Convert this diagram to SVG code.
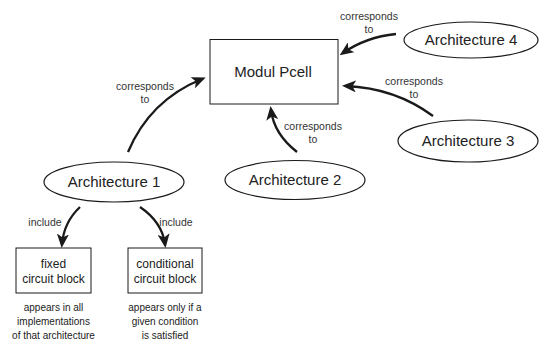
<svg xmlns="http://www.w3.org/2000/svg" width="540" height="345" viewBox="0 0 540 345">
<defs>
<marker id="ah" markerUnits="userSpaceOnUse" markerWidth="14" markerHeight="12" refX="10" refY="6" orient="auto">
<path d="M0,0 L14,6 L0,12 L3.5,6 Z" fill="#1a1a1a"/>
</marker>
</defs>
<style>
.node{fill:#fff;stroke:#1a1a1a;stroke-width:1.2}
.box{fill:#fff;stroke:#1a1a1a;stroke-width:1}
.big{font-family:"Liberation Sans",Arial,sans-serif;font-size:15px;fill:#222;text-anchor:middle}
.mid{font-family:"Liberation Sans",Arial,sans-serif;font-size:12px;fill:#222;text-anchor:middle}
.sm{font-family:"Liberation Sans",Arial,sans-serif;font-size:10.5px;fill:#333;text-anchor:middle}
.note{font-family:"Liberation Sans",Arial,sans-serif;font-size:10px;fill:#222;text-anchor:middle}
.arr{fill:none;stroke:#1a1a1a;stroke-width:2.3;marker-end:url(#ah)}
</style>
<rect width="540" height="345" fill="#fff"/>
<g id="connectors">
<path class="arr" d="M128,152 Q150,100 202,79"/>
<path class="arr" d="M297,152 Q274,134 271,110"/>
<path class="arr" d="M433,116 Q395,88 346,86"/>
<path class="arr" d="M396,34 Q366,37 343,53"/>
<path class="arr" d="M80,207 Q64,222 62,244"/>
<path class="arr" d="M140,207 Q162,222 165,244"/>
<text class="sm" x="145" y="90">corresponds</text>
<text class="sm" x="145" y="103">to</text>
<text class="sm" x="313" y="130">corresponds</text>
<text class="sm" x="313" y="143">to</text>
<text class="sm" x="414" y="85">corresponds</text>
<text class="sm" x="414" y="98">to</text>
<text class="sm" x="369" y="20">corresponds</text>
<text class="sm" x="369" y="33">to</text>
<text class="sm" x="45" y="226">include</text>
<text class="sm" x="176" y="226">include</text>
</g>
<g id="modul-pcell">
<rect class="box" x="210" y="39.5" width="128" height="64.5"/>
<text class="big" x="273" y="77">Modul Pcell</text>
</g>
<g id="arch4">
<ellipse class="node" cx="471" cy="40" rx="67" ry="18"/>
<text class="big" x="471" y="45">Architecture 4</text>
</g>
<g id="arch3">
<ellipse class="node" cx="468" cy="141" rx="70" ry="21"/>
<text class="big" x="468" y="146">Architecture 3</text>
</g>
<g id="arch2">
<ellipse class="node" cx="295" cy="180" rx="70" ry="19.5"/>
<text class="big" x="295" y="185">Architecture 2</text>
</g>
<g id="arch1">
<ellipse class="node" cx="114" cy="182" rx="70" ry="20"/>
<text class="big" x="114" y="187">Architecture 1</text>
</g>
<g id="fixed-block">
<rect class="box" x="16" y="248" width="75" height="45"/>
<text class="mid" x="53.5" y="268">fixed</text>
<text class="mid" x="53.5" y="283">circuit block</text>
<text class="note" x="53.5" y="311">appears in all</text>
<text class="note" x="53.5" y="325">implementations</text>
<text class="note" x="53.5" y="339">of that architecture</text>
</g>
<g id="conditional-block">
<rect class="box" x="128" y="248" width="74" height="45"/>
<text class="mid" x="165" y="268">conditional</text>
<text class="mid" x="165" y="283">circuit block</text>
<text class="note" x="165" y="311">appears only if a</text>
<text class="note" x="165" y="325">given condition</text>
<text class="note" x="165" y="339">is satisfied</text>
</g>
</svg>
